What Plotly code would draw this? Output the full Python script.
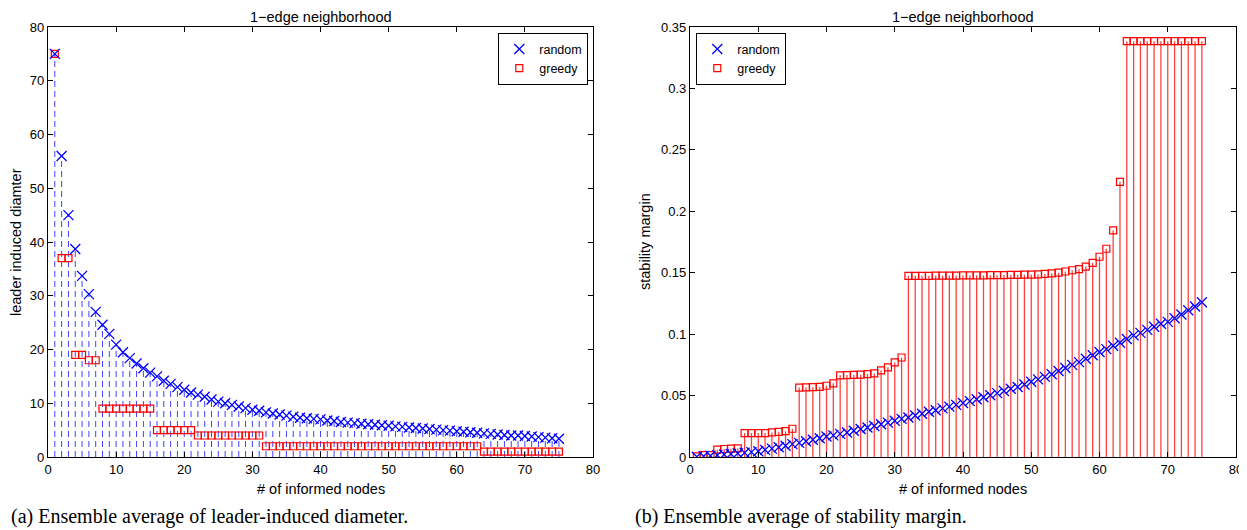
import plotly.graph_objects as go

# ---------------- data ----------------
nodes = list(range(1, 76))

diam_random = [75.0, 56.0, 45.0, 38.7, 33.7, 30.3, 27.0, 24.6, 22.9, 20.9,
               19.5, 18.4, 17.4, 16.5, 15.7, 15.0, 14.2, 13.6, 13.0, 12.5,
               12.0, 11.6, 11.2, 10.7, 10.3, 10.0, 9.7, 9.4, 9.1, 8.8,
               8.6, 8.3, 8.1, 7.9, 7.7, 7.5, 7.3, 7.2, 7.1, 7.0,
               6.8, 6.7, 6.5, 6.4, 6.3, 6.2, 6.1, 6.0, 5.9, 5.8,
               5.7, 5.6, 5.5, 5.4, 5.3, 5.2, 5.1, 5.0, 4.9, 4.8,
               4.7, 4.6, 4.5, 4.4, 4.3, 4.2, 4.1, 4.0, 4.0, 3.9,
               3.8, 3.7, 3.6, 3.5, 3.4]

diam_greedy = [75, 37, 37, 19, 19, 18, 18, 9, 9, 9,
               9, 9, 9, 9, 9, 5, 5, 5, 5, 5,
               5, 4, 4, 4, 4, 4, 4, 4, 4, 4,
               4, 2, 2, 2, 2, 2, 2, 2, 2, 2,
               2, 2, 2, 2, 2, 2, 2, 2, 2, 2,
               2, 2, 2, 2, 2, 2, 2, 2, 2, 2,
               2, 2, 2, 1, 1, 1, 1, 1, 1, 1,
               1, 1, 1, 1, 1]

margin_random = [0.0002, 0.0006, 0.0010, 0.0015, 0.0020, 0.0025, 0.0030, 0.0035, 0.0040, 0.0047,
                 0.0058, 0.0068, 0.0080, 0.0092, 0.0105, 0.0115, 0.0128, 0.0140, 0.0153, 0.0167,
                 0.0176, 0.0188, 0.0200, 0.0213, 0.0228, 0.0240, 0.0252, 0.0266, 0.0280, 0.0295,
                 0.0310, 0.0322, 0.0338, 0.0352, 0.0368, 0.0380, 0.0396, 0.0410, 0.0424, 0.0440,
                 0.0455, 0.0470, 0.0487, 0.0502, 0.0520, 0.0537, 0.0555, 0.0570, 0.0590, 0.0612,
                 0.0632, 0.0652, 0.0673, 0.0700, 0.0725, 0.0750, 0.0772, 0.0800, 0.0828, 0.0855,
                 0.0878, 0.0905, 0.0930, 0.0960, 0.0990, 0.1010, 0.1035, 0.1060, 0.1085, 0.1100,
                 0.1130, 0.1160, 0.1195, 0.1225, 0.1260]

margin_greedy = [0.0005, 0.0015, 0.0015, 0.0060, 0.0065, 0.0068, 0.0070, 0.0195, 0.0195, 0.0195,
                 0.0195, 0.0200, 0.0205, 0.0210, 0.0230, 0.0565, 0.0567, 0.0568, 0.0570, 0.0580,
                 0.0600, 0.0665, 0.0667, 0.0668, 0.0670, 0.0675, 0.0680, 0.0705, 0.0730, 0.0770,
                 0.0810, 0.1475, 0.1475, 0.1475, 0.1475, 0.1476, 0.1476, 0.1477, 0.1477, 0.1478,
                 0.1478, 0.1479, 0.1479, 0.1480, 0.1480, 0.1481, 0.1482, 0.1483, 0.1484, 0.1485,
                 0.1487, 0.1490, 0.1495, 0.1500, 0.1510, 0.1520, 0.1530, 0.1550, 0.1580, 0.1630,
                 0.1695, 0.1845, 0.2240, 0.3385, 0.3385, 0.3385, 0.3385, 0.3385, 0.3385, 0.3385,
                 0.3385, 0.3385, 0.3385, 0.3385, 0.3385]

x_ticks = [0, 10, 20, 30, 40, 50, 60, 70, 80]
y1_ticks = [0, 10, 20, 30, 40, 50, 60, 70, 80]
y2_ticks = [0, 0.05, 0.1, 0.15, 0.2, 0.25, 0.3, 0.35]

title_text = "1\u2212edge neighborhood"
xlabel = "# of informed nodes"
ylabel1 = "leader induced diamter"
ylabel2 = "stability margin"
cap_a = "(a) Ensemble average of leader-induced diameter."
cap_b = "(b) Ensemble average of stability margin."


def stems(xs, ys):
    sx, sy = [], []
    for a, b in zip(xs, ys):
        sx += [a, a, None]
        sy += [0, b, None]
    return sx, sy


# the page body has an 8px margin, so the figure is sized to the visible area
OFF = 8
W, H = 1247 - OFF, 530 - OFF


def fx(p):  # window pixel -> paper x
    return (p - OFF) / W


def fy(p):  # window pixel -> paper y
    return 1 - (p - OFF) / H


fig = go.Figure()

# left panel
sx, sy = stems(nodes, diam_random)
fig.add_trace(go.Scatter(x=sx, y=sy, mode="lines", showlegend=False, hoverinfo="skip",
                         line=dict(color="rgba(0,0,255,0.75)", width=1, dash="6px,4px"),
                         xaxis="x", yaxis="y"))
fig.add_trace(go.Scatter(x=nodes, y=diam_greedy, mode="markers", name="greedy",
                         marker=dict(symbol="square-open", size=7, color="red",
                                     line=dict(width=1.2, color="red")),
                         xaxis="x", yaxis="y", legend="legend", legendrank=2))
fig.add_trace(go.Scatter(x=nodes, y=diam_random, mode="markers", name="random",
                         marker=dict(symbol="x-thin-open", size=10, color="blue",
                                     line=dict(width=1.3, color="blue")),
                         xaxis="x", yaxis="y", legend="legend", legendrank=1))

# right panel
sx, sy = stems(nodes, margin_greedy)
fig.add_trace(go.Scatter(x=sx, y=sy, mode="lines", showlegend=False, hoverinfo="skip",
                         line=dict(color="rgba(255,0,0,0.75)", width=1.3),
                         xaxis="x2", yaxis="y2"))
fig.add_trace(go.Scatter(x=nodes, y=margin_greedy, mode="markers", name="greedy",
                         marker=dict(symbol="square-open", size=7, color="red",
                                     line=dict(width=1.2, color="red")),
                         xaxis="x2", yaxis="y2", legend="legend2", legendrank=2))
fig.add_trace(go.Scatter(x=nodes, y=margin_random, mode="markers", name="random",
                         marker=dict(symbol="x-thin-open", size=10, color="blue",
                                     line=dict(width=1.3, color="blue")),
                         xaxis="x2", yaxis="y2", legend="legend2", legendrank=1))

tick_font = dict(family="Liberation Sans", size=13, color="black")
axis_common = dict(showline=True, linecolor="black", linewidth=1.3, mirror="ticks",
                   ticks="inside", ticklen=5, tickcolor="black", tickwidth=1,
                   showgrid=False, zeroline=False, tickfont=tick_font, automargin=False)

ydom = [fy(457), fy(27)]

fig.update_layout(
    template="none",
    width=W, height=H,
    margin=dict(l=0, r=0, t=0, b=0, autoexpand=False),
    paper_bgcolor="white", plot_bgcolor="white",
    font=dict(family="Liberation Sans", color="black"),
    xaxis=dict(domain=[fx(48), fx(593)], range=[0, 80], tickvals=x_ticks, anchor="y", **axis_common),
    yaxis=dict(domain=ydom, range=[0, 80], tickvals=y1_ticks, anchor="x", **axis_common),
    xaxis2=dict(domain=[fx(690), fx(1236)], range=[0, 80], tickvals=x_ticks, anchor="y2", **axis_common),
    yaxis2=dict(domain=ydom, range=[0, 0.35], tickvals=y2_ticks, anchor="x2", **axis_common),
    legend=dict(x=fx(588), xanchor="right", y=fy(33), yanchor="top",
                bordercolor="black", borderwidth=1.3, bgcolor="white",
                font=dict(family="Liberation Sans", size=12.5), tracegroupgap=0),
    legend2=dict(x=fx(696), xanchor="left", y=fy(33), yanchor="top",
                 bordercolor="black", borderwidth=1.3, bgcolor="white",
                 font=dict(family="Liberation Sans", size=12.5), tracegroupgap=0),
)


def ann(text, px, py, size, xanchor="center", angle=0, family="Liberation Sans"):
    fig.add_annotation(text=text, x=fx(px), y=fy(py), xref="paper", yref="paper",
                       xanchor=xanchor, yanchor="middle", showarrow=False, textangle=angle,
                       font=dict(family=family, size=size, color="black"))


ann(title_text, 320.5, 17, 14.5)
ann(title_text, 963, 17, 14.5)
ann(xlabel, 320.5, 489, 14.5)
ann(xlabel, 963, 489, 14.5)
ann(ylabel1, 16, 242, 14.5, angle=-90)
ann(ylabel2, 645, 242, 14.5, angle=-90)
ann(cap_a, 8.5, 516, 20, xanchor="left", family="Liberation Serif")
ann(cap_b, 633, 516, 20, xanchor="left", family="Liberation Serif")

fig.write_html("out.html")
